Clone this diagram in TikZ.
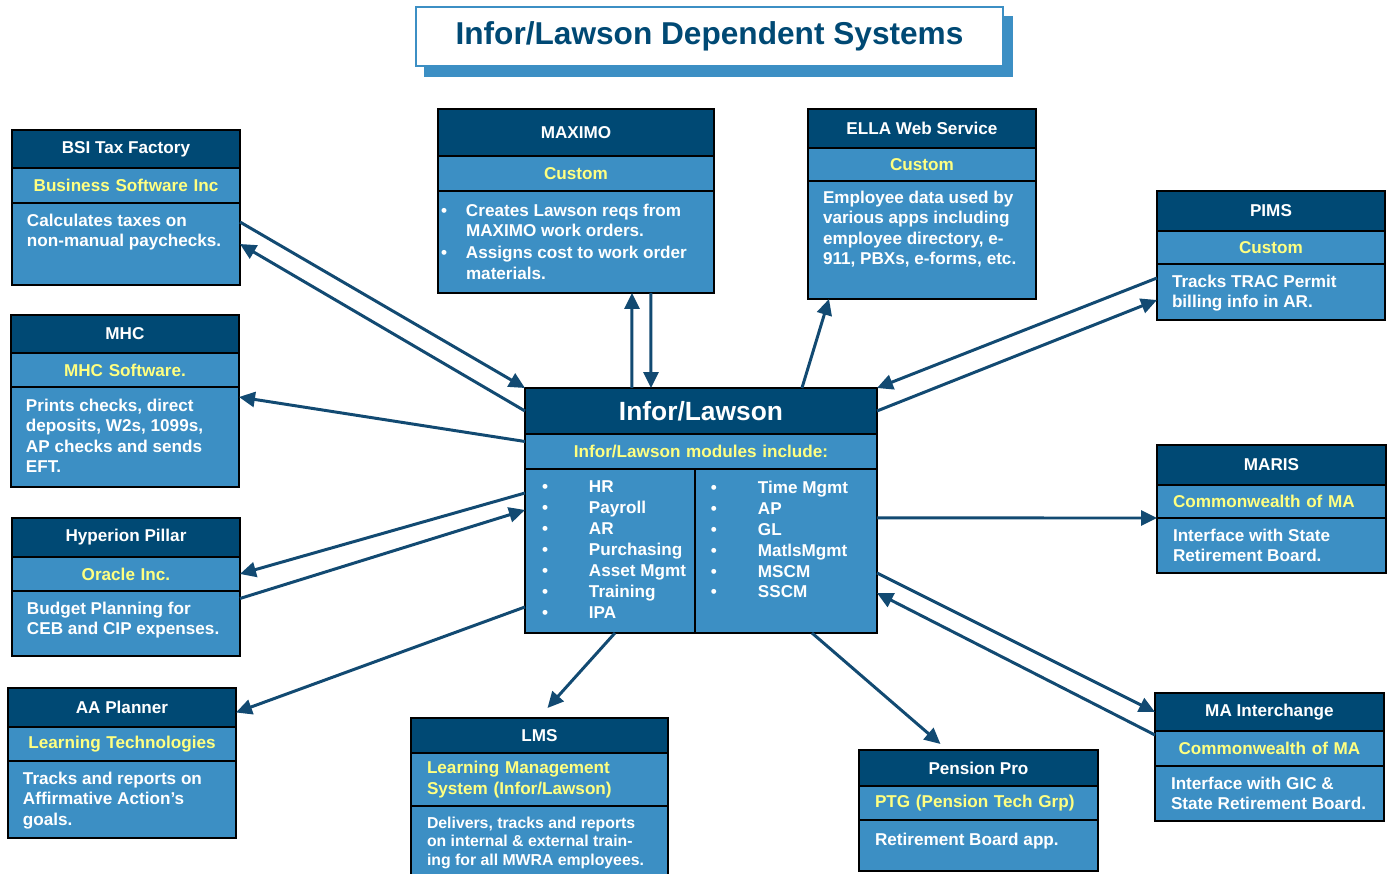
\documentclass[tikz,border=0pt]{standalone}
\usepackage{fontspec}
\setmainfont{Liberation Sans}
\usepackage{xcolor}
\usepackage{tikz}
\usetikzlibrary{arrows.meta, positioning, shadows}

\definecolor{navy}{RGB}{0,73,116}
\definecolor{midblue}{RGB}{60,143,196}
\definecolor{paleyellow}{RGB}{255,255,128}
\definecolor{arrowblue}{RGB}{18,74,114}

\tikzstyle{titlebox} = [rectangle, draw=midblue, line width=0.8pt, fill=white, minimum width=11.74cm, minimum height=1.18cm, text=navy, font=\bfseries\fontsize{18}{22}\selectfont, copy shadow={shadow xshift=0.18cm, shadow yshift=-0.2cm, fill=midblue, draw=midblue}]
\tikzstyle{hdr} = [rectangle, anchor=north west, draw=black, line width=0.9pt, fill=navy, text=white, inner sep=0pt, outer sep=0pt, font=\bfseries\fontsize{9.75}{11.6}\selectfont]
\tikzstyle{vendor} = [rectangle, draw=black, line width=0.9pt, fill=midblue, text=paleyellow, inner xsep=0.32cm, inner ysep=0pt, outer sep=0pt, align=center, font=\bfseries\fontsize{9.75}{11.6}\selectfont]
\tikzstyle{panel} = [rectangle, draw=black, line width=0.9pt, fill=midblue, inner sep=0pt, outer sep=0pt]
\tikzstyle{desc} = [inner sep=0pt, outer sep=0pt, text=white, align=left, font=\bfseries\fontsize{9.75}{11.6}\selectfont]
\tikzstyle{line} = [draw=arrowblue, line width=1.7pt, -{Triangle[length=0.32cm, width=0.3cm]}]

\newcommand{\bul}[1]{\llap{\textbullet\hspace{#1}}}

\begin{document}
\begin{tikzpicture}[x=0.02cm, y=-0.02cm]
    \useasboundingbox (0,0) rectangle (1389,873);

    % Title
    \node [titlebox] (title) at (709.5,36.5) {Infor/Lawson Dependent Systems};

    % Infor/Lawson hub
    \node [hdr, minimum width=7.04cm, minimum height=0.92cm, font=\bfseries\fontsize{15}{18}\selectfont] (infh) at (525,388) {Infor/Lawson};
    \node [vendor, text width=6.40cm, minimum height=0.70cm, below=0pt of infh] (infv) {Infor/Lawson modules include:};
    \node [panel, minimum width=3.40cm, minimum height=3.28cm, below right=0pt and 0pt of infv.south west] (infl) {};
    \node [panel, minimum width=3.64cm, minimum height=3.28cm, right=0pt of infl] (infr) {};
    \node [desc, font=\bfseries\fontsize{9.75}{11.9}\selectfont, below right=0.24cm and 1.28cm of infl.north west] (inflt) {\bul{0.82cm}HR\\ \bul{0.82cm}Payroll\\ \bul{0.82cm}AR\\ \bul{0.82cm}Purchasing\\ \bul{0.82cm}Asset Mgmt\\ \bul{0.82cm}Training\\ \bul{0.82cm}IPA};
    \node [desc, font=\bfseries\fontsize{9.75}{11.9}\selectfont, below right=0.24cm and 1.26cm of infr.north west] (infrt) {\bul{0.82cm}Time Mgmt\\ \bul{0.82cm}AP\\ \bul{0.82cm}GL\\ \bul{0.82cm}MatlsMgmt\\ \bul{0.82cm}MSCM\\ \bul{0.82cm}SSCM};

    % Left column
    \node [hdr, minimum width=4.56cm, minimum height=0.76cm] (bsi) at (12,130) {BSI Tax Factory};
    \node [vendor, text width=3.92cm, minimum height=0.70cm, below=0pt of bsi] (bsiv) {Business Software Inc};
    \node [panel, minimum width=4.56cm, minimum height=1.64cm, below=0pt of bsiv] (bsib) {};
    \node [desc, below right=0.22cm and 0.30cm of bsib.north west] (bsit) {Calculates taxes on\\non-manual paychecks.};

    \node [hdr, minimum width=4.56cm, minimum height=0.76cm] (mhc) at (11,315) {MHC};
    \node [vendor, text width=3.92cm, minimum height=0.68cm, below=0pt of mhc] (mhcv) {MHC Software.};
    \node [panel, minimum width=4.56cm, minimum height=2.00cm, below=0pt of mhcv] (mhcb) {};
    \node [desc, below right=0.24cm and 0.30cm of mhcb.north west] (mhct) {Prints checks, direct\\deposits, W2s, 1099s,\\AP checks and sends\\EFT.};

    \node [hdr, minimum width=4.56cm, minimum height=0.78cm] (hyp) at (12,518) {Hyperion Pillar};
    \node [vendor, text width=3.92cm, minimum height=0.68cm, below=0pt of hyp] (hypv) {Oracle Inc.};
    \node [panel, minimum width=4.56cm, minimum height=1.30cm, below=0pt of hypv] (hypb) {};
    \node [desc, below right=0.22cm and 0.30cm of hypb.north west] (hypt) {Budget Planning for\\CEB and CIP expenses.};

    \node [hdr, minimum width=4.56cm, minimum height=0.78cm] (aah) at (8,688) {AA Planner};
    \node [vendor, text width=3.92cm, minimum height=0.68cm, below=0pt of aah] (aav) {Learning Technologies};
    \node [panel, minimum width=4.56cm, minimum height=1.54cm, below=0pt of aav] (aab) {};
    \node [desc, below right=0.22cm and 0.30cm of aab.north west] (aat) {Tracks and reports on\\Affirmative Action’s\\goals.};

    % Top row
    \node [hdr, minimum width=5.52cm, minimum height=0.94cm] (max) at (438,109) {MAXIMO};
    \node [vendor, text width=4.88cm, minimum height=0.70cm, below=0pt of max] (maxv) {Custom};
    \node [panel, minimum width=5.52cm, minimum height=2.04cm, below=0pt of maxv] (maxb) {};
    \node [desc, below right=0.26cm and 0.56cm of maxb.north west] (maxt) {\bul{0.38cm}Creates Lawson reqs from\\MAXIMO work orders.\\[1pt] \bul{0.38cm}Assigns cost to work order\\materials.};

    \node [hdr, minimum width=4.56cm, minimum height=0.78cm] (ella) at (808,109) {ELLA Web Service};
    \node [vendor, text width=3.92cm, minimum height=0.66cm, below=0pt of ella] (ellav) {Custom};
    \node [panel, minimum width=4.56cm, minimum height=2.36cm, below=0pt of ellav] (ellab) {};
    \node [desc, below right=0.20cm and 0.30cm of ellab.north west] (ellat) {Employee data used by\\various apps including\\employee directory, e-\\911, PBXs, e-forms, etc.};

    % Right column
    \node [hdr, minimum width=4.56cm, minimum height=0.80cm] (pims) at (1157,191) {PIMS};
    \node [vendor, text width=3.92cm, minimum height=0.66cm, below=0pt of pims] (pimsv) {Custom};
    \node [panel, minimum width=4.56cm, minimum height=1.12cm, below=0pt of pimsv] (pimsb) {};
    \node [desc, below right=0.22cm and 0.30cm of pimsb.north west] (pimst) {Tracks TRAC Permit\\billing info in AR.};

    \node [hdr, minimum width=4.58cm, minimum height=0.80cm] (mar) at (1157,445) {MARIS};
    \node [vendor, text width=3.94cm, minimum height=0.66cm, align=left, below=0pt of mar] (marv) {Commonwealth of MA};
    \node [panel, minimum width=4.58cm, minimum height=1.10cm, below=0pt of marv] (marb) {};
    \node [desc, below right=0.22cm and 0.32cm of marb.north west] (mart) {Interface with State\\Retirement Board.};

    \node [hdr, minimum width=4.58cm, minimum height=0.76cm] (maih) at (1155,693) {MA Interchange};
    \node [vendor, text width=3.94cm, minimum height=0.70cm, below=0pt of maih] (maiv) {Commonwealth of MA};
    \node [panel, minimum width=4.58cm, minimum height=1.10cm, below=0pt of maiv] (maib) {};
    \node [desc, below right=0.22cm and 0.32cm of maib.north west] (mait) {Interface with GIC \&\\State Retirement Board.};

    % Bottom row
    \node [hdr, minimum width=5.14cm, minimum height=0.70cm] (lmsh) at (411,718) {LMS};
    \node [vendor, text width=4.50cm, minimum height=1.06cm, align=left, below=0pt of lmsh] (lmsv) {Learning Management\\System (Infor/Lawson)};
    \node [panel, minimum width=5.14cm, minimum height=1.40cm, below=0pt of lmsv] (lmsb) {};
    \node [desc, font=\bfseries\fontsize{9}{10.5}\selectfont, below right=0.22cm and 0.32cm of lmsb.north west] (lmst) {Delivers, tracks and reports\\on internal \& external train-\\ing for all MWRA employees.};

    \node [hdr, minimum width=4.78cm, minimum height=0.72cm] (penh) at (859,750) {Pension Pro};
    \node [vendor, text width=4.14cm, minimum height=0.68cm, align=left, below=0pt of penh] (penv) {PTG (Pension Tech Grp)};
    \node [panel, minimum width=4.78cm, minimum height=1.02cm, below=0pt of penv] (penb) {};
    \node [desc, below right=0.26cm and 0.32cm of penb.north west] (pent) {Retirement Board app.};

    % Edges
    \path [line] ([yshift=0.44cm]bsib.east) -- (infh.north west);
    \path [line] (infh.west) -- (bsib.east);
    \path [line] ([yshift=0.2cm]infv.west) -- ([yshift=0.8cm]mhcb.east);
    \path [line] ([yshift=1.16cm]infl.west) -- (hypv.east);
    \path [line] ([yshift=0.5cm]hypb.east) -- ([yshift=0.82cm]infl.west);
    \path [line] ([yshift=-1.12cm]infl.west) -- ([yshift=-0.1cm]aah.east);
    \path [line] ([xshift=0.1cm]infl.south) -- ([xshift=0.16cm,yshift=0.2cm]lmsh.north);
    \path [line] ([xshift=0.52cm]infr.south) -- ([xshift=-0.76cm,yshift=0.12cm]penh.north);
    \path [line] ([yshift=-0.44cm]infr.east) -- (maih.west);
    \path [line] ([yshift=-0.08cm]maih.south west) -- ([yshift=-0.84cm]infr.east);
    \path [line] ([yshift=0.66cm]infr.east) -- (marv.south west);
    \path [line] ([yshift=0.28cm]pimsb.west) -- (infh.north east);
    \path [line] (infh.east) -- ([yshift=-0.16cm]pimsb.west);
    \path [line] ([xshift=2.02cm]infh.north) -- ([xshift=0.42cm]ellab.south west);
    \path [line] ([xshift=-1.38cm]infh.north) -- ([xshift=1.12cm]maxb.south);
    \path [line] ([xshift=1.5cm]maxb.south) -- ([xshift=-1.0cm]infh.north);
\end{tikzpicture}
\end{document}
